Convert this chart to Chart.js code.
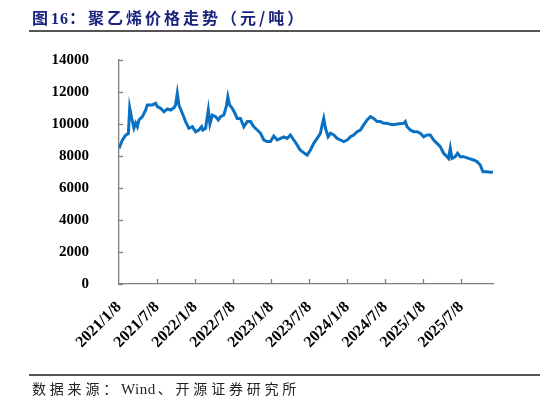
<!DOCTYPE html>
<html>
<head>
<meta charset="utf-8">
<script src="https://cdn.jsdelivr.net/npm/chart.js@4/dist/chart.umd.min.js"></script>
<style>
  html, body { margin: 0; padding: 0; background: #fff; }
  #wrap { position: relative; width: 546px; height: 404px; overflow: hidden; }
  #title { position: absolute; left: 32px; top: 5px; font-family: "Liberation Serif", "Noto Sans CJK SC", serif; font-weight: bold; font-size: 16px; color: #1a237e; white-space: nowrap; }
  #title .cjk { font-family: "Noto Sans CJK SC", sans-serif; letter-spacing: 3px; }
  #title .lat { letter-spacing: 1px; }
  .rule { position: absolute; left: 29px; width: 511px; height: 2px; background: #555; }
  #footer { position: absolute; left: 32px; top: 378px; font-family: "Liberation Serif", "Noto Sans CJK SC", serif; font-size: 14px; color: #222; white-space: nowrap; }
  #footer .cjk { font-family: "Noto Sans CJK SC", sans-serif; letter-spacing: 3.8px; }
  #footer .lat { font-size: 15px; letter-spacing: 0.5px; padding-right: 2px; }
  #chartBox { position: absolute; left: 0; top: 0; width: 546px; height: 404px; }
</style>
</head>
<body>
<div id="wrap">
  <div id="chartBox"><canvas id="c"></canvas></div>
  <div id="title"><span class="cjk">图</span><span class="lat">16</span><span class="cjk">：聚乙烯价格走势（元/吨）</span></div>
  <div class="rule" style="top:30px"></div>
  <div class="rule" style="top:374px"></div>
  <div id="footer"><span class="cjk">数据来源：</span><span class="lat">Wind</span><span class="cjk">、开源证券研究所</span></div>
</div>
<script>
// Months elapsed since 2021/1/8 for each observation
const monthsSinceStart = [
  0.0, 0.54, 1.06, 1.48, 1.69, 2.00, 2.36, 2.63, 2.90, 3.15,
  3.69, 4.21, 4.47, 5.26, 5.78, 6.05, 6.57, 7.09, 7.63, 8.15,
  8.67, 8.93, 9.20, 9.45, 9.99, 10.51, 11.03, 11.57, 12.08, 12.60,
  13.03, 13.23, 13.66, 14.09, 14.34, 14.72, 15.24, 15.66, 16.02, 16.54,
  16.92, 17.17, 17.44, 17.87, 18.28, 18.65, 19.17, 19.69, 20.23, 20.75,
  21.27, 21.81, 22.33, 22.85, 23.38, 23.90, 24.42, 24.96, 25.48, 26.00,
  26.53, 27.05, 27.57, 28.11, 28.52, 28.90, 29.68, 30.20, 30.72, 31.26,
  31.78, 32.05, 32.30, 32.57, 32.99, 33.35, 33.88, 34.41, 34.93, 35.45,
  35.99, 36.51, 37.03, 37.56, 38.08, 38.60, 39.14, 39.66, 40.18, 40.71,
  41.23, 41.75, 42.29, 42.81, 43.33, 43.86, 44.90, 45.17, 45.44, 45.96,
  46.48, 47.02, 47.54, 48.06, 48.59, 49.11, 49.63, 50.17, 50.69, 51.21,
  51.74, 51.99, 52.26, 52.53, 53.05, 53.41, 53.84, 54.36, 55.15, 55.93,
  56.47, 56.99, 57.41, 58.04, 58.57, 59.00
];
// Polyethylene price, yuan/ton
const priceValues = [
  8480, 9000, 9300, 9400, 11000, 10375, 9750, 10060, 9830, 10250,
  10460, 10875, 11190, 11190, 11290, 11080, 10980, 10770, 10940, 10875,
  11020, 11190, 11920, 11190, 10670, 10150, 9730, 9830, 9520, 9625,
  9830, 9625, 9730, 10875, 10000, 10560, 10460, 10250, 10460, 10560,
  11080, 11700, 11190, 10980, 10670, 10350, 10350, 9830, 10150, 10150,
  9830, 9625, 9420, 9000, 8900, 8900, 9250, 9000, 9100, 9200,
  9100, 9310, 9000, 8690, 8400, 8270, 8060, 8375, 8790, 9100,
  9420, 9940, 10350, 9730, 9200, 9420, 9310, 9100, 9000, 8900,
  9000, 9200, 9310, 9520, 9625, 9940, 10250, 10460, 10350, 10150,
  10150, 10040, 10040, 9980, 9960, 10000, 10040, 10150, 9830, 9625,
  9520, 9520, 9420, 9200, 9310, 9310, 9000, 8790, 8580, 8170,
  7960, 7850, 8480, 7850, 7960, 8170, 7960, 7960, 7850, 7750,
  7650, 7440, 7020, 7020, 6980, 7000
];
const tickMonths = [0, 6, 12, 18, 24, 30, 36, 42, 48, 54];
const tickLabels = ['2021/1/8', '2021/7/8', '2022/1/8', '2022/7/8', '2023/1/8',
  '2023/7/8', '2024/1/8', '2024/7/8', '2025/1/8', '2025/7/8'];
const yTicks = [0, 2000, 4000, 6000, 8000, 10000, 12000, 14000];

const points = monthsSinceStart.map((m, i) => ({ x: m, y: priceValues[i] }));
const axisColor = '#7f7f7f';

const innerTicks = {
  id: 'innerTicks',
  afterDraw(chart) {
    const ctx = chart.ctx;
    const xs = chart.scales.x, ys = chart.scales.y;
    ctx.save();
    ctx.strokeStyle = axisColor;
    ctx.lineWidth = 1.3;
    ys.ticks.forEach(t => {
      const py = Math.round(ys.getPixelForValue(t.value)) + 0.5;
      ctx.beginPath(); ctx.moveTo(xs.left, py); ctx.lineTo(xs.left + 4, py); ctx.stroke();
    });
    xs.ticks.forEach(t => {
      if (t.value === 0) return;
      const px = Math.round(xs.getPixelForValue(t.value)) + 0.5;
      ctx.beginPath(); ctx.moveTo(px, ys.bottom); ctx.lineTo(px, ys.bottom - 5); ctx.stroke();
    });
    ctx.restore();
  }
};

new Chart(document.getElementById('c'), {
  type: 'line',
  data: {
    datasets: [{
      data: points,
      borderColor: '#0a70c2',
      borderWidth: 3,
      pointRadius: 0,
      tension: 0,
      fill: false
    }]
  },
  options: {
    responsive: true,
    maintainAspectRatio: false,
    animation: false,
    events: [],
    layout: { padding: { top: 60, right: 53, bottom: 40, left: 0 } },
    plugins: { legend: { display: false }, tooltip: { enabled: false } },
    scales: {
      x: {
        type: 'linear',
        min: 0,
        max: 59,
        grid: { display: false },
        border: { display: true, color: axisColor, width: 1.3 },
        afterBuildTicks: s => { s.ticks = tickMonths.map(v => ({ value: v })); },
        afterFit: s => { s.height = 80; },
        ticks: {
          autoSkip: false,
          maxRotation: 45,
          minRotation: 45,
          padding: 6,
          color: '#000',
          font: { family: 'Liberation Serif', size: 16, weight: 'bold' },
          callback: (v, i) => tickLabels[i]
        }
      },
      y: {
        min: 0,
        max: 14000,
        grid: { display: false },
        border: { display: true, color: axisColor, width: 1.3 },
        afterBuildTicks: s => { s.ticks = yTicks.map(v => ({ value: v })); },
        afterFit: s => { s.width = 119; },
        ticks: {
          padding: 22,
          color: '#000',
          font: { family: 'Liberation Serif', size: 15, weight: 'bold' },
          callback: v => String(v)
        }
      }
    }
  },
  plugins: [innerTicks]
});
</script>
</body>
</html>
